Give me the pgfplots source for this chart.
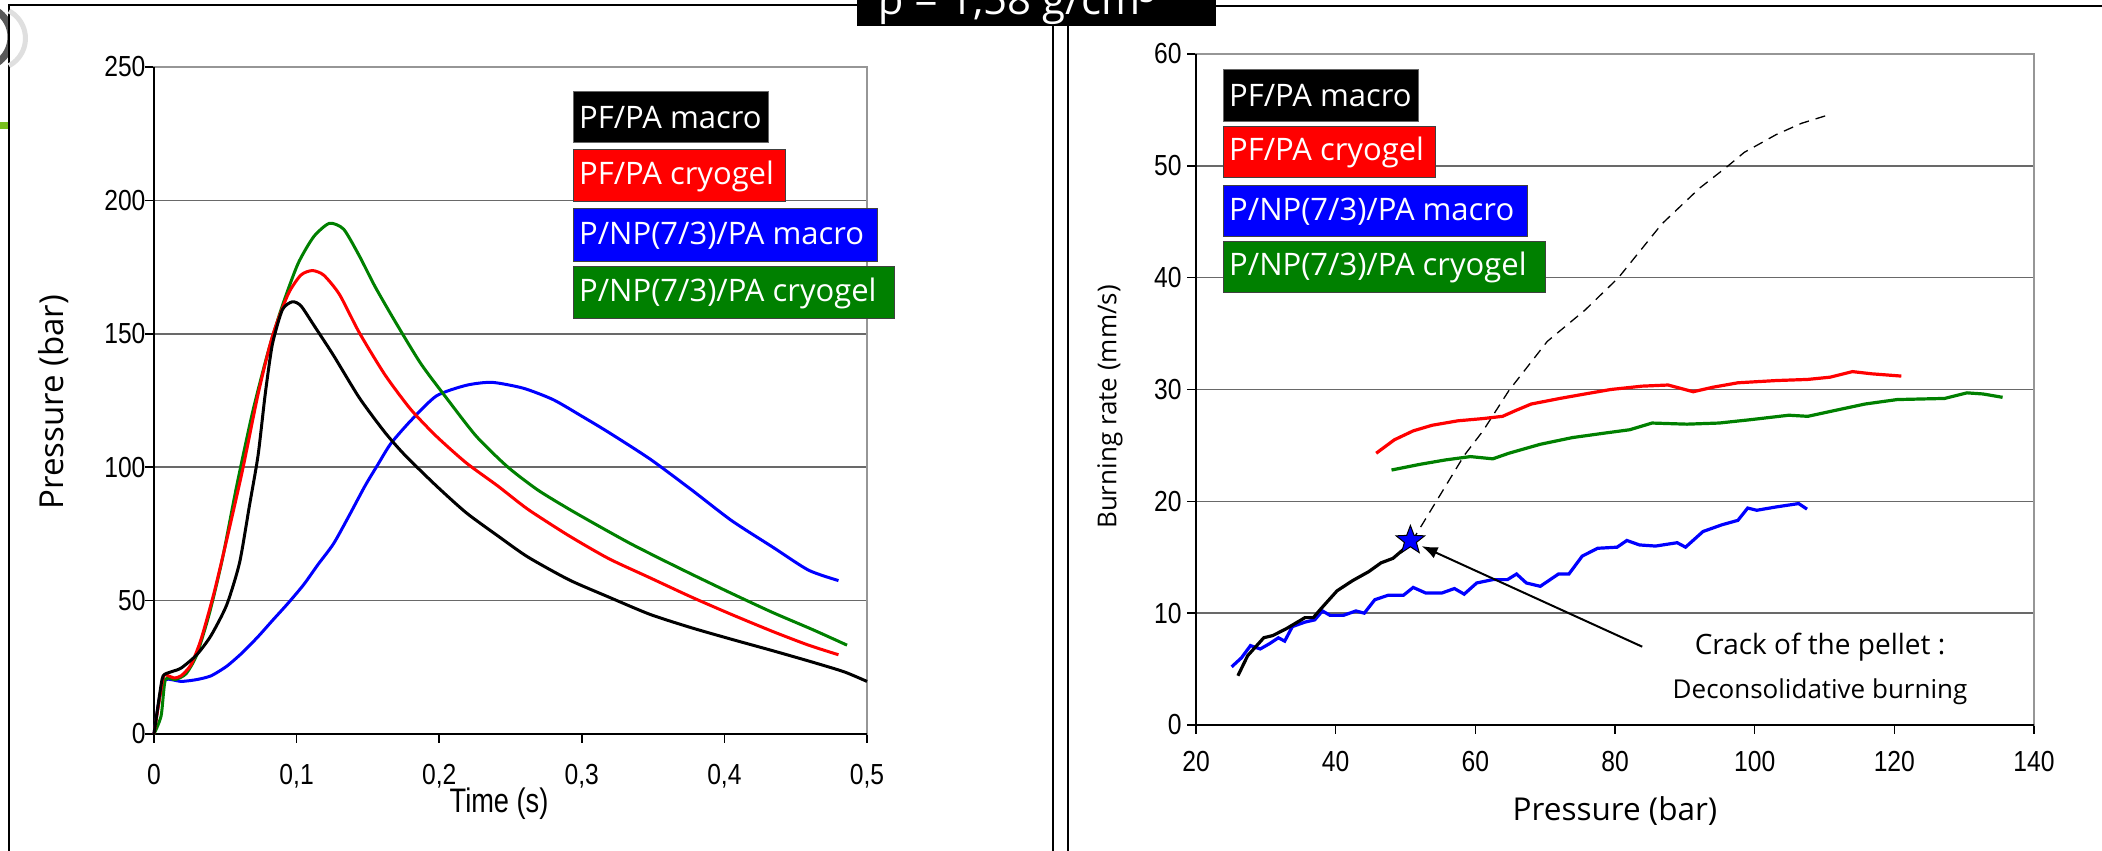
\documentclass[border=0pt]{standalone}
\usepackage{fontspec}
\setmainfont{Liberation Sans}
\newfontfamily\comic{Open Sans}
\usepackage{graphicx}
\usepackage{pgfplots}
\pgfplotsset{compat=1.18}
\usetikzlibrary{arrows.meta}
\definecolor{plblue}{RGB}{0,0,255}
\definecolor{plgreen}{RGB}{0,128,0}
\definecolor{plred}{RGB}{255,0,0}
\definecolor{gridgray}{RGB}{105,105,105}
\definecolor{bordergray}{RGB}{150,150,150}
\definecolor{slidegreen}{RGB}{120,190,30}
\newcommand{\tk}[1]{\scalebox{0.85}[1]{#1}}
\pgfdeclareplotmark{fstar}{%
  \pgfpathmoveto{\pgfpointpolar{90}{\pgfplotmarksize}}%
  \pgfpathlineto{\pgfpointpolar{126}{0.42\pgfplotmarksize}}%
  \pgfpathlineto{\pgfpointpolar{162}{\pgfplotmarksize}}%
  \pgfpathlineto{\pgfpointpolar{198}{0.42\pgfplotmarksize}}%
  \pgfpathlineto{\pgfpointpolar{234}{\pgfplotmarksize}}%
  \pgfpathlineto{\pgfpointpolar{270}{0.42\pgfplotmarksize}}%
  \pgfpathlineto{\pgfpointpolar{306}{\pgfplotmarksize}}%
  \pgfpathlineto{\pgfpointpolar{342}{0.42\pgfplotmarksize}}%
  \pgfpathlineto{\pgfpointpolar{18}{\pgfplotmarksize}}%
  \pgfpathlineto{\pgfpointpolar{54}{0.42\pgfplotmarksize}}%
  \pgfpathclose
  \pgfusepathqfillstroke}
\pgfplotsset{
  panel/.style={
    scale only axis, anchor=south west,
    axis line style={bordergray, line width=2pt},
    ymajorgrids, major grid style={gridgray, line width=1.5pt},
    tick pos=left, tick align=outside, major tick length=9pt,
    major tick style={black, line width=1.5pt},
    tick label style={font=\fontsize{29}{31}\selectfont},
    clip=false,
  },
}
\begin{document}
\begin{tikzpicture}
\useasboundingbox (0pt,0pt) rectangle (2102pt,851pt);
\begin{scope}[x=1pt,y=1pt]
\fill[white] (0,0) rectangle (2102,851);
\draw[gray!70!black, line width=7pt] (-20,814) circle (31);
\fill[slidegreen] (0,722) rectangle (9,729);
\draw[fill=white, line width=2pt] (9,-20) rectangle (1053,846);
\draw[gray!25, line width=5pt] (9,840) arc[start angle=62, end angle=-62, radius=31];
\draw[line width=2pt] (1068,-20) -- (1068,845) -- (2130,845);
\fill[black] (857,825) rectangle (1216,870);
\node[anchor=base west, text=white, inner sep=0pt, font=\comic\fontsize{42}{44}\selectfont] at (878,836) {ρ = 1,58 g/cm³};
\end{scope}

% ---------------- left chart ----------------
\begin{axis}[panel,
  at={(154pt,117pt)}, width=713pt, height=667pt,
  xmin=0, xmax=0.5, ymin=0, ymax=250,
  xtick={0,0.1,0.2,0.3,0.4,0.5},
  xticklabels={{\tk{0}},{\tk{0,1}},{\tk{0,2}},{\tk{0,3}},{\tk{0,4}},{\tk{0,5}}},
  ytick={0,50,100,150,200,250},
  yticklabels={{\tk{0}},{\tk{50}},{\tk{100}},{\tk{150}},{\tk{200}},{\tk{250}}},
  xticklabel style={yshift=-18pt},
  yticklabel style={xshift=4pt},
]
\draw[black, line width=2pt] (rel axis cs:0,1) -- (rel axis cs:0,0) -- (rel axis cs:1,0);
\addplot[plblue, line width=3pt, smooth, tension=0.4] coordinates {
(0,0) (0.004,14) (0.008,20.4) (0.019,19.7) (0.030,20.4) (0.040,21.8) (0.051,25.4) (0.062,30.5) (0.073,36.5) (0.083,42.5) (0.094,49) (0.105,56) (0.115,63.5) (0.126,71.4) (0.137,82) (0.148,93) (0.157,101) (0.166,108.8) (0.180,117.4) (0.198,126.7) (0.219,130.7) (0.237,131.8) (0.259,129.6) (0.280,125.3) (0.301,118.8) (0.319,113) (0.348,103) (0.377,91.5) (0.405,80) (0.434,70) (0.459,61.4) (0.480,57.5)};
\addplot[plgreen, line width=3pt, smooth, tension=0.4] coordinates {
(0,0) (0.005,6.8) (0.008,20.4) (0.015,20.4) (0.0225,22.6) (0.030,29.7) (0.039,45.5) (0.048,65.7) (0.058,93) (0.069,120.3) (0.080,143.2) (0.090,160.5) (0.101,176.3) (0.112,186.4) (0.123,191.4) (0.133,189.2) (0.144,179.2) (0.155,167.7) (0.169,154.7) (0.187,138.9) (0.205,126) (0.226,111.6) (0.248,100.1) (0.269,91.5) (0.291,84.3) (0.312,77.9) (0.334,71.4) (0.355,65.7) (0.377,59.9) (0.405,52.7) (0.434,45.5) (0.462,39.1) (0.486,33.3)};
\addplot[plred, line width=3pt, smooth, tension=0.4] coordinates {
(0,0) (0.0064,21) (0.010,21.8) (0.014,21) (0.019,21.8) (0.026,26) (0.033,35.5) (0.042,52.7) (0.051,72.8) (0.062,98.7) (0.073,127.4) (0.083,149) (0.094,164.8) (0.103,172) (0.111,173.7) (0.119,172) (0.130,164.8) (0.144,150.4) (0.162,134.6) (0.180,121.7) (0.198,111.6) (0.219,101.6) (0.241,93) (0.262,84.3) (0.291,74.3) (0.319,65.7) (0.348,58.5) (0.377,51.3) (0.405,44.8) (0.434,38.4) (0.459,33.3) (0.480,29.7)};
\addplot[black, line width=3pt, smooth, tension=0.4] coordinates {
(0,0) (0.004,15) (0.0064,21.8) (0.012,23.3) (0.019,24.7) (0.030,29.7) (0.040,36.9) (0.051,48.4) (0.060,64.2) (0.067,85.8) (0.073,104.5) (0.078,127.4) (0.083,146) (0.090,159) (0.097,162) (0.103,160.5) (0.112,153.3) (0.126,141.8) (0.144,126) (0.162,113) (0.176,104.5) (0.198,93) (0.219,82.9) (0.241,74.3) (0.262,66.4) (0.291,57.8) (0.319,51.3) (0.348,44.8) (0.377,39.8) (0.405,35.5) (0.434,31.2) (0.462,26.9) (0.484,23.3) (0.5,19.7)};
\end{axis}

% ---------------- right chart ----------------
\begin{axis}[panel,
  at={(1196pt,126pt)}, width=838pt, height=671pt,
  xmin=20, xmax=140, ymin=0, ymax=60,
  xtick={20,40,60,80,100,120,140},
  xticklabels={{\tk{20}},{\tk{40}},{\tk{60}},{\tk{80}},{\tk{100}},{\tk{120}},{\tk{140}}},
  ytick={0,10,20,30,40,50,60},
  yticklabels={{\tk{0}},{\tk{10}},{\tk{20}},{\tk{30}},{\tk{40}},{\tk{50}},{\tk{60}}},
  xticklabel style={yshift=-14pt},
  yticklabel style={xshift=-2pt},
]
\draw[black, line width=2pt] (rel axis cs:0,1) -- (rel axis cs:0,0) -- (rel axis cs:1,0);
\addplot[black, line width=1.3pt, dash pattern=on 10pt off 7pt] coordinates {
(50.9,16.4) (54.7,20.3) (58.4,24.1) (61.1,26.3) (64.8,29.9) (70.3,34.3) (75.7,37.1) (80.5,40.0) (86.7,44.8) (92.1,48.0) (96.2,50.0) (98.5,51.2) (103.1,52.8) (106.7,53.8) (110.8,54.6)};
\addplot[plred, line width=3.2pt] coordinates {
(45.8,24.3) (48.4,25.5) (51.1,26.3) (53.8,26.8) (57.5,27.2) (61.1,27.4) (63.9,27.6) (65.7,28.1) (68.0,28.7) (72.1,29.2) (75.7,29.6) (79.4,30.0) (83.9,30.3) (87.6,30.4) (89.4,30.1) (91.2,29.8) (94.0,30.2) (97.6,30.6) (103.1,30.8) (107.6,30.9) (110.8,31.1) (114.0,31.6) (116.8,31.4) (121.0,31.2)};
\addplot[plgreen, line width=3.2pt] coordinates {
(48.0,22.8) (52.0,23.3) (55.7,23.7) (59.3,24.0) (62.5,23.8) (64.8,24.3) (69.3,25.1) (73.9,25.7) (78.5,26.1) (82.1,26.4) (85.3,27.0) (90.3,26.9) (94.9,27.0) (99.4,27.3) (104.9,27.7) (107.6,27.6) (111.3,28.1) (115.8,28.7) (120.4,29.1) (127.2,29.2) (130.4,29.7) (132.7,29.6) (135.5,29.3)};
\addplot[plblue, line width=3.2pt] coordinates {
(25.1,5.2) (26.5,6.0) (27.8,7.1) (29.2,6.8) (30.6,7.3) (31.8,7.8) (32.7,7.5) (33.8,8.8) (35.6,9.2) (37.0,9.4) (38.1,10.2) (39.2,9.8) (41.1,9.8) (42.9,10.2) (44.1,10.0) (45.6,11.2) (47.5,11.6) (49.7,11.6) (51.1,12.3) (52.9,11.8) (55.2,11.8) (57.0,12.2) (58.4,11.7) (60.2,12.7) (62.5,13.0) (64.6,13.0) (65.9,13.5) (67.3,12.7) (69.3,12.4) (71.9,13.5) (73.4,13.5) (75.3,15.1) (77.5,15.8) (80.3,15.9) (81.7,16.5) (83.5,16.1) (85.8,16.0) (88.9,16.3) (90.1,15.9) (92.6,17.3) (95.3,17.9) (97.6,18.3) (99.0,19.4) (100.3,19.2) (103.1,19.5) (106.3,19.8) (107.5,19.3)};
\addplot[black, line width=3.2pt] coordinates {
(26.0,4.4) (27.4,6.2) (29.7,7.8) (31.0,8.0) (32.9,8.6) (35.6,9.6) (36.8,9.6) (37.9,10.4) (40.2,12.0) (42.4,12.9) (44.7,13.7) (46.5,14.5) (48.2,14.9) (49.7,15.7) (50.9,16.4)};
\draw[black, line width=2pt, -{Latex[length=16pt,width=12pt]}] (axis cs:83.9,7.0) -- (axis cs:52.3,16.0);
\addplot[only marks, mark=fstar, mark size=15pt, mark options={fill=plblue, draw=black, line width=1pt}] coordinates {(50.7,16.5)};
\end{axis}

\begin{scope}[x=1pt,y=1pt]
\begin{scope}[every node/.style={anchor=west, text=white, inner sep=0pt, font=\comic\fontsize{31}{33}\selectfont}]
\filldraw[fill=black, draw=black!60, line width=1pt] (573,708) rectangle (768,759);
\node at (579,733.5) {PF/PA macro};
\filldraw[fill=plred, draw=black!75, line width=1pt] (573,649) rectangle (785,701);
\node at (579,675) {PF/PA cryogel};
\filldraw[fill=plblue, draw=black!75, line width=1pt] (573,589) rectangle (877,642);
\node at (579,615.5) {P/NP(7/3)/PA macro};
\filldraw[fill=plgreen, draw=black!75, line width=1pt] (573,532) rectangle (894,584);
\node at (579,558) {P/NP(7/3)/PA cryogel};

\filldraw[fill=black, draw=black!60, line width=1pt] (1223,729) rectangle (1418,781);
\node at (1229,755) {PF/PA macro};
\filldraw[fill=plred, draw=black!75, line width=1pt] (1223,673) rectangle (1435,724);
\node at (1229,698.5) {PF/PA cryogel};
\filldraw[fill=plblue, draw=black!75, line width=1pt] (1223,614) rectangle (1527,665);
\node at (1229,639.5) {P/NP(7/3)/PA macro};
\filldraw[fill=plgreen, draw=black!75, line width=1pt] (1223,558) rectangle (1545,609);
\node at (1229,583.5) {P/NP(7/3)/PA cryogel};
\end{scope}
\node[rotate=90, font=\comic\fontsize{33}{35}\selectfont] at (54,449) {Pressure (bar)};
\node[font=\fontsize{34}{36}\selectfont] at (499,47) {\scalebox{0.8}[1]{Time (s)}};
\node[rotate=90, font=\comic\fontsize{26}{28}\selectfont] at (1110,444) {Burning rate (mm/s)};
\node[font=\comic\fontsize{31.5}{33}\selectfont] at (1615,40) {Pressure (bar)};
\node[font=\comic\fontsize{28}{30}\selectfont] at (1820,204) {Crack of the pellet :};
\node[font=\comic\fontsize{26}{28}\selectfont] at (1820,159) {Deconsolidative burning};
\end{scope}
\end{tikzpicture}
\end{document}
